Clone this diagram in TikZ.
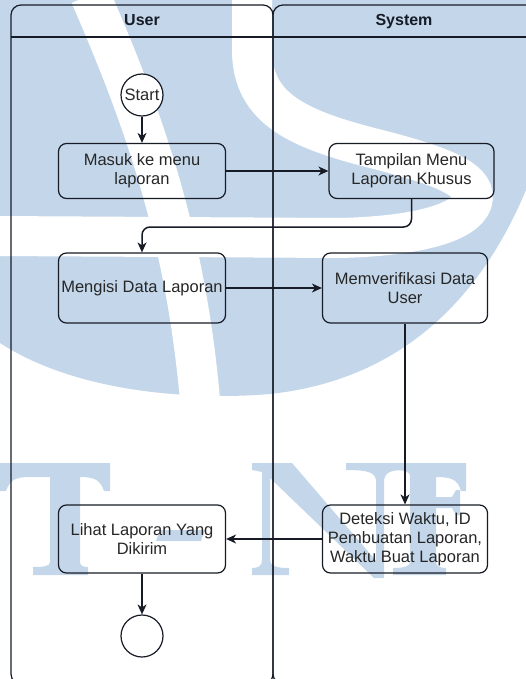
\documentclass[tikz,border=0pt]{standalone}
\usepackage{fontspec}
\setmainfont{Liberation Sans}
\usetikzlibrary{arrows.meta}
\definecolor{wmblue}{RGB}{196,215,234}
\definecolor{ink}{RGB}{22,27,38}

\begin{document}
\begin{tikzpicture}[x=1pt,y=-1pt]
\tikzstyle{activity}=[draw=ink,line width=1.2pt,rounded corners=8pt,align=center,inner sep=0pt,text=black!85,font=\fontsize{16.5}{19}\selectfont]
\tikzstyle{terminal}=[circle,draw=ink,line width=1.2pt,fill=white,minimum size=42pt,inner sep=0pt,text=black!85,font=\fontsize{16.5}{19}\selectfont]
\tikzstyle{flow}=[draw=ink,line width=1.5pt,-{Stealth[length=10pt,width=9pt,inset=3pt]}]
\tikzstyle{lane}=[draw=ink,line width=1.2pt,rounded corners=10pt]
\tikzstyle{lanetitle}=[anchor=base,text=ink,font=\bfseries\fontsize{16}{19}\selectfont]
\tikzstyle{wm}=[fill=wmblue]
\tikzstyle{wmgap}=[draw=white,line width=40pt]
\useasboundingbox (0,0) rectangle (526,679);
\clip (0,0) rectangle (526,679);
% watermark
\fill[wm] (0,0) -- (526,0) -- (526,190) .. controls (480,300) and (400,380) .. (270,394) .. controls (200,400) and (80,395) .. (0,343) -- cycle;
\draw[wmgap] (90,-5) .. controls (140,110) and (185,230) .. (200,400);
\draw[wmgap] (252,-5) -- (252,50) .. controls (252,110) and (300,130) .. (380,150) .. controls (450,168) and (478,182) .. (472,202) .. controls (465,222) and (420,236) .. (340,238) -- (-5,236);
\fill[wm] (-5,463) -- (110,463) -- (110,491) -- (104,491) .. controls (100,480) and (95,477) .. (80,477) -- (80,562) .. controls (80,566) and (84,567) .. (88,567) -- (88,575) -- (33,575) -- (33,567) .. controls (45,567) and (50,566) .. (50,562) -- (50,477) -- (30,477) .. controls (15,477) and (10,480) .. (6,491) -- (-5,491) -- cycle;
\fill[wm] (160,530) -- (205,530) -- (201,541) -- (156,541) -- cycle;
\fill[wm] (252,463) -- (292,463) -- (384,570) -- (384,578) -- (374,578) -- (270,478) -- (270,560) .. controls (270,566) and (276,568) .. (289,568) -- (289,575) -- (252,575) -- (252,568) .. controls (258,568) and (262,566) .. (262,560) -- (262,472) -- (252,470) -- cycle;
\fill[wm] (346,463) -- (403,463) -- (403,470) .. controls (390,470) and (384,473) .. (384,482) -- (384,575) -- (376,575) -- (376,482) .. controls (376,473) and (370,470) .. (346,470) -- cycle;
\fill[wm] (393,463) -- (466,463) -- (466,491) -- (461,491) .. controls (458,480) and (452,477) .. (436,477) -- (436,497) -- (452,497) -- (456,490) -- (460,490) -- (460,515) -- (456,515) -- (452,508) -- (436,508) -- (436,562) .. controls (436,566) and (440,568) .. (446,568) -- (446,575) -- (393,575) -- (393,568) .. controls (405,568) and (410,566) .. (410,562) -- (410,476) .. controls (410,472) and (405,470) .. (393,470) -- cycle;
% swimlanes
\draw[lane] (11,5) rectangle (273,684);
\draw[lane] (273,5) rectangle (536,684);
\draw[ink,line width=1.2pt] (11,37) -- (536,37);
\node[lanetitle] (user) at (142,26) {User};
\node[lanetitle] (system) at (404,26) {System};
% activities
\node[terminal] (start) at (142,95) {Start};
\node[activity,minimum width=167pt,minimum height=55pt] (masuk) at (142,171) {Masuk ke menu\\laporan};
\node[activity,minimum width=165pt,minimum height=55pt] (tampilan) at (411.5,171) {Tampilan Menu\\Laporan Khusus};
\node[activity,minimum width=167pt,minimum height=70pt] (mengisi) at (142,288) {Mengisi Data Laporan};
\node[activity,minimum width=165pt,minimum height=70pt] (verifikasi) at (405,288) {Memverifikasi Data\\User};
\node[activity,minimum width=165pt,minimum height=68pt] (deteksi) at (405,539) {Deteksi Waktu, ID\\Pembuatan Laporan,\\Waktu Buat Laporan};
\node[activity,minimum width=167pt,minimum height=68pt] (lihat) at (142,539) {Lihat Laporan Yang\\Dikirim};
\node[terminal] (finish) at (142,636) {};
\coordinate (elbow) at (300,227);
\draw[flow] (start) -- (masuk);
\draw[flow] (masuk) -- (tampilan);
\draw[flow,rounded corners=8pt] (tampilan.south) |- (elbow -| mengisi.north) -- (mengisi.north);
\draw[flow] (mengisi) -- (verifikasi);
\draw[flow] (verifikasi) -- (deteksi);
\draw[flow] (deteksi) -- (lihat);
\draw[flow] (lihat) -- (finish);
\end{tikzpicture}
\end{document}
